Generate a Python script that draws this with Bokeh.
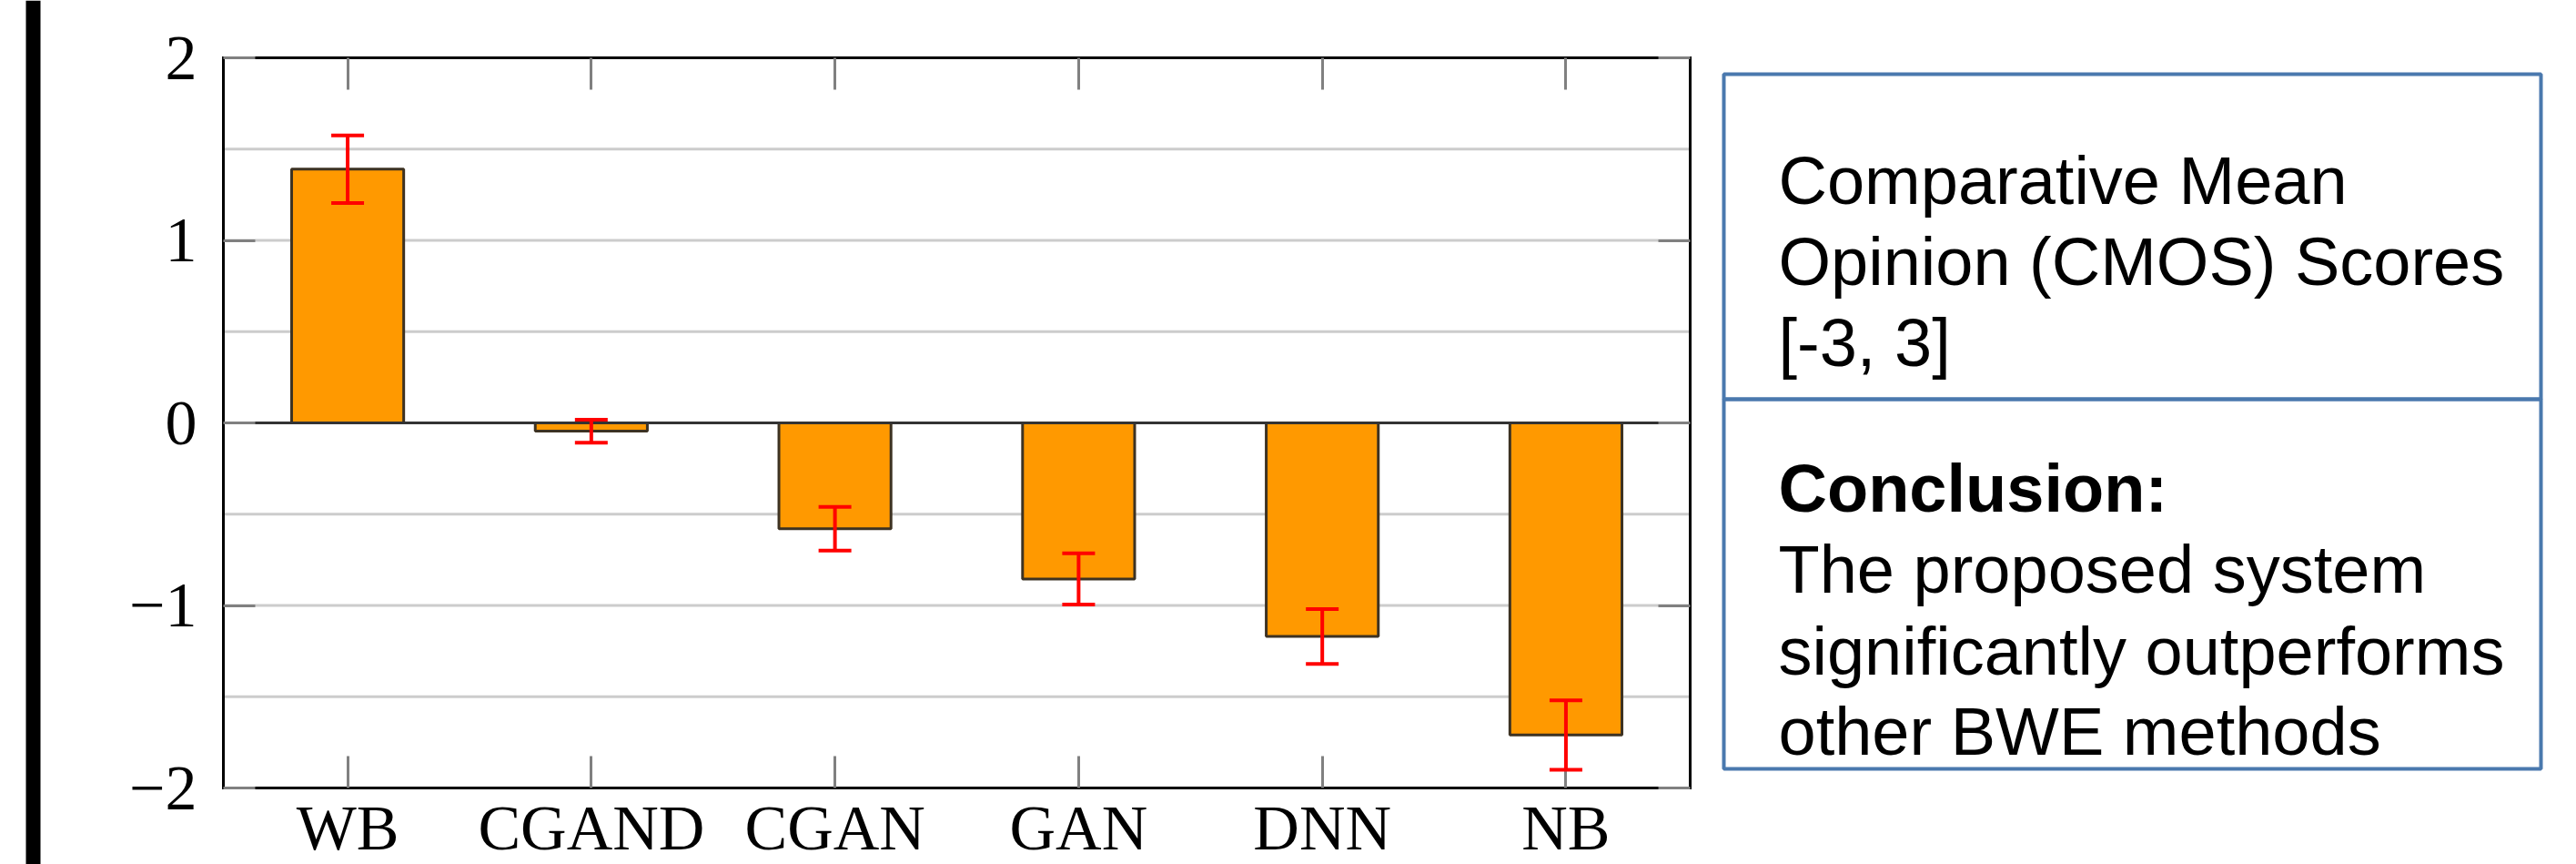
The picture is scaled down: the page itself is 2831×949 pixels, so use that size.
from bokeh.plotting import figure
from bokeh.models import (ColumnDataSource, Range1d, FixedTicker, LinearAxis,
                          Whisker, TeeHead)
from bokeh.core.properties import value
from bokeh.embed import file_html
from bokeh.resources import INLINE

# ---------------- data ----------------
categories = ["WB", "CGAND", "CGAN", "GAN", "DNN", "NB"]
cmos_scores = [1.39, -0.045, -0.58, -0.855, -1.17, -1.71]
cmos_errors = [0.185, 0.063, 0.12, 0.14, 0.15, 0.19]
y_ticks = [-2, -1, 0, 1, 2]
y_tick_labels = ["\u22122", "\u22121", "0", "1", "2"]
y_grid = [-1.5, -1.0, -0.5, 0.5, 1.0, 1.5]
box_top_lines = ["Comparative Mean", "Opinion (CMOS) Scores", "[-3, 3]"]
box_bottom_title = "Conclusion:"
box_bottom_lines = ["The proposed system", "significantly outperforms", "other BWE methods"]

# ---------------- layout constants (pixels) ----------------
W, H = 2831, 949
CH_L, CH_R, CH_T, CH_B = 245, 1857, 63, 865      # chart box inside canvas
SERIF = "Liberation Serif"
SANS = "Liberation Sans"

xpos = list(range(len(categories)))
x_lo, x_hi = -0.51, len(categories) - 1 + 0.51
y_lo, y_hi = -2.0, 2.0
ppx = (CH_R - CH_L) / (x_hi - x_lo)
ppy = (CH_B - CH_T) / (y_hi - y_lo)
x_range = Range1d(x_lo - CH_L / ppx, x_hi + (W - CH_R) / ppx)
y_range = Range1d(y_lo - (H - CH_B) / ppy, y_hi + CH_T / ppy)

p = figure(width=W, height=H, x_range=x_range, y_range=y_range,
           output_backend="svg", toolbar_location=None)
p.min_border = 0
p.min_border_left = p.min_border_right = p.min_border_top = p.min_border_bottom = 0
p.outline_line_color = None
p.grid.visible = False
p.extra_x_ranges = {"px": Range1d(0, W)}
p.extra_y_ranges = {"px": Range1d(H, 0)}

# ---- axes forming the chart box ----
def style_axis(ax, loc, bounds, ticks):
    ax.fixed_location = loc
    ax.bounds = bounds
    ax.ticker = FixedTicker(ticks=ticks)
    ax.axis_line_color = "black"
    ax.axis_line_width = 3
    ax.axis_line_cap = "square"
    ax.major_tick_in = 35
    ax.major_tick_out = 0
    ax.major_tick_line_color = "#808080"
    ax.major_tick_line_width = 3
    ax.minor_tick_line_color = None

xb = p.xaxis[0]
style_axis(xb, y_lo, (x_lo, x_hi), xpos)
xb.major_label_overrides = {i: c for i, c in zip(xpos, categories)}
xb.major_label_text_font = SERIF
xb.major_label_text_font_size = "70px"
xb.major_label_text_color = "black"
xb.major_label_standoff = 5

yl = p.yaxis[0]
style_axis(yl, x_lo, (y_lo, y_hi), y_ticks)
yl.major_label_overrides = {t: l for t, l in zip(y_ticks, y_tick_labels)}
yl.major_label_text_font = SERIF
yl.major_label_text_font_size = "70px"
yl.major_label_text_color = "black"
yl.major_label_standoff = 29

xt = LinearAxis()
style_axis(xt, y_hi, (x_lo, x_hi), xpos)
xt.major_label_text_color = None
p.add_layout(xt, "above")

yr = LinearAxis()
style_axis(yr, x_hi, (y_lo, y_hi), y_ticks)
yr.major_label_text_color = None
p.add_layout(yr, "right")

# ---- grid lines ----
p.segment(x0=x_lo, x1=x_hi, y0=y_grid, y1=y_grid, line_color="#cccccc", line_width=3)

# ---- bars ----
lower = [s - e for s, e in zip(cmos_scores, cmos_errors)]
upper = [s + e for s, e in zip(cmos_scores, cmos_errors)]
src = ColumnDataSource(dict(x=xpos, score=cmos_scores, lower=lower, upper=upper))
p.vbar(x="x", top="score", bottom=0, width=0.46, source=src,
       fill_color="#ff9900", line_color="#3d3222", line_width=3)

# ---- zero line ----
p.segment(x0=[x_lo], x1=[x_hi], y0=[0], y1=[0], line_color="#333333", line_width=3)

whisk = Whisker(base="x", upper="upper", lower="lower", source=src, level="overlay",
                line_color="#ff0000", line_width=4,
                upper_head=TeeHead(size=36, line_color="#ff0000", line_width=4),
                lower_head=TeeHead(size=36, line_color="#ff0000", line_width=4))
p.add_layout(whisk)

# ---- left black bar ----
p.quad(left=[28], right=[44], top=[0], bottom=[H], fill_color="black", line_color=None,
       x_range_name="px", y_range_name="px")

# ---- text box ----
box_color = "#4a79ae"
p.quad(left=[1894, 1894], right=[2792, 2792], top=[81, 438], bottom=[438, 844],
       fill_color=None, line_color=box_color, line_width=4,
       x_range_name="px", y_range_name="px")

tx = 1954
p.text(x=[tx] * 3, y=[198, 287, 376], text=box_top_lines, text_baseline="alphabetic",
       text_align="left", text_font=value(SANS), text_font_size="74px", text_color="black",
       x_range_name="px", y_range_name="px")
p.text(x=[tx], y=[536], text=[box_bottom_title], text_baseline="alphabetic",
       text_align="left", text_font=value(SANS), text_font_size="74px",
       text_font_style="bold", text_color="black", x_range_name="px", y_range_name="px")
p.text(x=[tx] * 3, y=[625, 715, 803], text=box_bottom_lines, text_baseline="alphabetic",
       text_align="left", text_font=value(SANS), text_font_size="74px", text_color="black",
       x_range_name="px", y_range_name="px")

open("out.html", "w").write(file_html(p, INLINE))
